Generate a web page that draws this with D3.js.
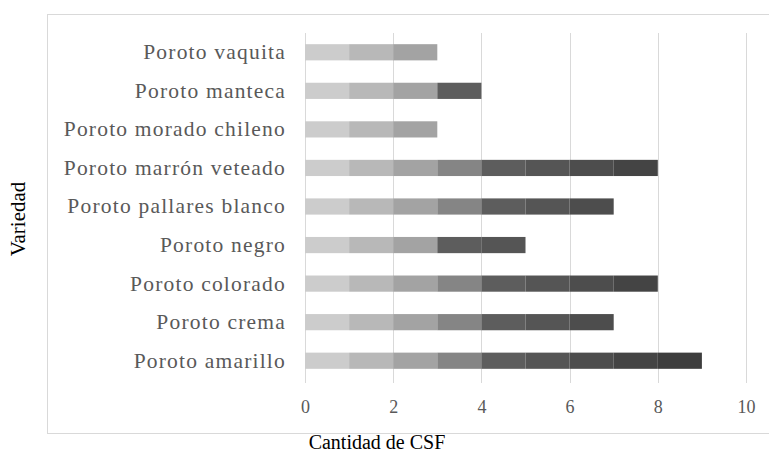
<!DOCTYPE html>
<html>
<head>
<meta charset="utf-8">
<script src="https://cdn.jsdelivr.net/npm/d3@7"></script>
<style>
  html, body { margin: 0; padding: 0; background: #fff; }
  svg { display: block; }
  svg text { font-family: "Liberation Serif", "Times New Roman", Times, serif; }
</style>
</head>
<body>
<svg id="chart" width="769" height="454"></svg>
<script>
// Bean varieties, listed top to bottom
const categories = [
  "Poroto vaquita",
  "Poroto manteca",
  "Poroto morado chileno",
  "Poroto marrón veteado",
  "Poroto pallares blanco",
  "Poroto negro",
  "Poroto colorado",
  "Poroto crema",
  "Poroto amarillo"
];

// One CSF per series: 1 = present in the variety, 0 = absent
const csf1 = [1, 1, 1, 1, 1, 1, 1, 1, 1];
const csf2 = [1, 1, 1, 1, 1, 1, 1, 1, 1];
const csf3 = [1, 1, 1, 1, 1, 1, 1, 1, 1];
const csf4 = [0, 0, 0, 1, 1, 0, 1, 1, 1];
const csf5 = [0, 1, 0, 1, 1, 1, 1, 1, 1];
const csf6 = [0, 0, 0, 1, 1, 1, 1, 1, 1];
const csf7 = [0, 0, 0, 1, 1, 0, 1, 1, 1];
const csf8 = [0, 0, 0, 1, 0, 0, 1, 0, 1];
const csf9 = [0, 0, 0, 0, 0, 0, 0, 0, 1];

const seriesValues = [csf1, csf2, csf3, csf4, csf5, csf6, csf7, csf8, csf9];
const seriesColors = ["#cccccc", "#b8b8b8", "#a3a3a3", "#858585", "#5d5d5d",
                      "#555555", "#4d4d4d", "#444444", "#3d3d3d"];

const xTicks = [0, 2, 4, 6, 8, 10];
const xTitle = "Cantidad de CSF";
const yTitle = "Variedad";

const FONT = "'Liberation Serif', 'Times New Roman', Times, serif";

const svg = d3.select("#chart");
const plot = { left: 305, right: 746, top: 33, bottom: 380 };

// chart frame
svg.append("rect")
  .attr("x", 47.5).attr("y", 14.5)
  .attr("width", 769 - 47).attr("height", 433 - 14)
  .attr("fill", "none").attr("stroke", "#d9d9d9").attr("stroke-width", 1);

const x = d3.scaleLinear().domain([0, 10]).range([plot.left, plot.right]);
const y = d3.scaleBand().domain(categories).range([plot.top, plot.bottom])
  .paddingInner(0.58).paddingOuter(0.29);

// vertical gridlines
svg.append("g")
  .selectAll("line")
  .data(xTicks)
  .join("line")
  .attr("x1", d => Math.round(x(d)) + 0.5)
  .attr("x2", d => Math.round(x(d)) + 0.5)
  .attr("y1", plot.top)
  .attr("y2", plot.bottom + 3)
  .attr("stroke", "#d9d9d9")
  .attr("stroke-width", 1);

// stacked data
const rows = categories.map((c, i) => {
  const r = { cat: c };
  seriesValues.forEach((s, k) => { r["s" + k] = s[i]; });
  return r;
});
const keys = seriesValues.map((_, k) => "s" + k);
const stacked = d3.stack().keys(keys)(rows);

svg.append("g")
  .selectAll("g")
  .data(stacked)
  .join("g")
  .attr("fill", (d, k) => seriesColors[k])
  .selectAll("rect")
  .data(d => d.filter(p => p[1] > p[0]))
  .join("rect")
  .attr("x", p => x(p[0]))
  .attr("width", p => x(p[1]) - x(p[0]))
  .attr("y", p => y(p.data.cat))
  .attr("height", y.bandwidth());

// x axis tick labels
const xAxis = d3.axisBottom(x).tickValues(xTicks).tickSize(0).tickPadding(0);
const gx = svg.append("g")
  .attr("transform", `translate(0, ${plot.bottom + 20})`)
  .call(xAxis);
gx.select(".domain").remove();
gx.attr("font-family", FONT).attr("font-size", 18);
gx.selectAll("text").attr("fill", "#595959");

// y axis category labels
const yAxis = d3.axisLeft(y).tickSize(0).tickPadding(0);
const gy = svg.append("g")
  .attr("transform", `translate(${plot.left - 19}, 0)`)
  .call(yAxis);
gy.select(".domain").remove();
gy.attr("font-family", FONT).attr("font-size", 21.5);
gy.selectAll("text")
  .attr("fill", "#595959")
  .attr("letter-spacing", 1.2);

// axis titles
svg.append("text")
  .attr("x", 377).attr("y", 449)
  .attr("text-anchor", "middle")
  .attr("font-family", FONT)
  .attr("font-size", 20)
  .attr("fill", "#000")
  .text(xTitle);

svg.append("text")
  .attr("transform", "translate(25, 219) rotate(-90)")
  .attr("text-anchor", "middle")
  .attr("font-family", FONT)
  .attr("font-size", 21)
  .attr("fill", "#000")
  .text(yTitle);
</script>
</body>
</html>
